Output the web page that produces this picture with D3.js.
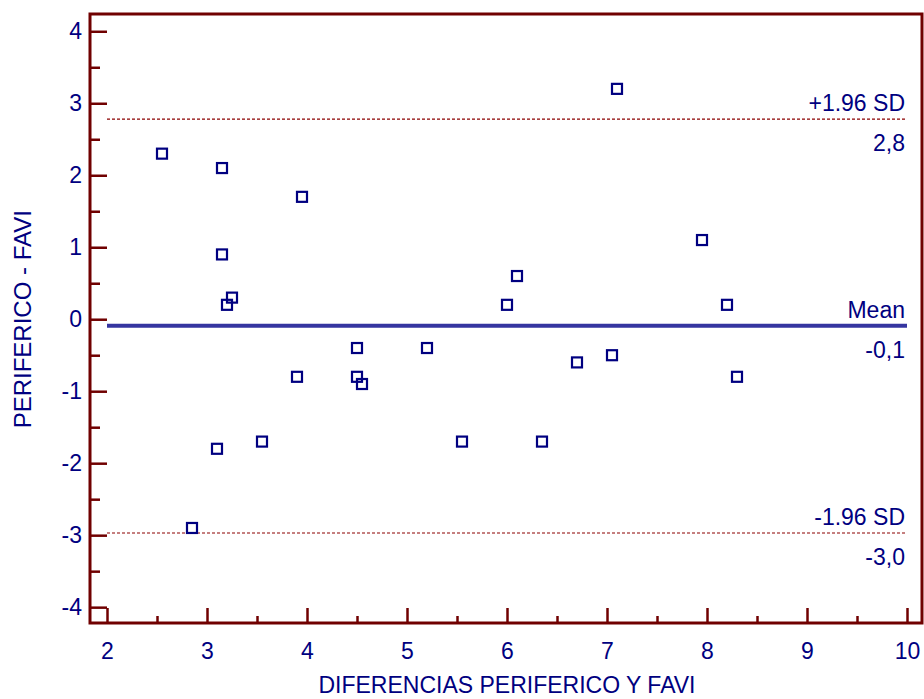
<!DOCTYPE html>
<html lang="es">
<head>
    <meta charset="UTF-8">
    <title>Bland-Altman</title>
    <style>
        body { margin: 0; background: #fff; }
        text { font-family: "Liberation Sans", Arial, sans-serif; }
    </style>
</head>
<body>
<div id="chart"></div>
<script src="https://cdn.jsdelivr.net/npm/d3@7/dist/d3.min.js"></script>
<script>
    // datos
    const xVals = [2.55, 3.15, 3.15, 3.2, 3.25, 3.95, 2.85, 3.1, 3.55, 3.9, 4.5, 4.5, 4.55,
        5.2, 5.55, 6.0, 6.1, 6.35, 6.7, 7.05, 7.1, 7.95, 8.2, 8.3];
    const yVals = [2.3, 2.1, 0.9, 0.2, 0.3, 1.7, -2.9, -1.8, -1.7, -0.8, -0.4, -0.8, -0.9,
        -0.4, -1.7, 0.2, 0.6, -1.7, -0.6, -0.5, 3.2, 1.1, 0.2, -0.8];

    const refNames = ["+1.96 SD", "Mean", "-1.96 SD"];
    const refValues = [2.78, -0.09, -2.97];
    const refLabels = ["2,8", "-0,1", "-3,0"];

    const xTicks = [2, 3, 4, 5, 6, 7, 8, 9, 10];
    const yTicks = [-4, -3, -2, -1, 0, 1, 2, 3, 4];

    const width = 924, height = 699;
    const frameColor = "#700000", textColor = "#000080";
    const fontSize = "23px";

    let svg = d3.select("#chart")
        .append("svg")
        .attr("width", width)
        .attr("height", height);

    var x = d3.scaleLinear()
        .domain([1.83, 10.15])
        .range([90, 922]);

    var y = d3.scaleLinear()
        .domain([-4.22, 4.24])
        .range([623, 14]);

    // ticks menores
    var xMinor = d3.axisBottom(x).tickValues(d3.range(2.5, 10, 1)).tickSize(-7).tickFormat("");
    var yMinor = d3.axisLeft(y).tickValues(d3.range(-3.5, 4, 1)).tickSize(-10).tickFormat("");

    var xAxis = d3.axisBottom(x).tickValues(xTicks).tickSize(-15).tickPadding(20)
        .tickFormat(d => String(d));
    var yAxis = d3.axisLeft(y).tickValues(yTicks).tickSize(-17).tickPadding(8)
        .tickFormat(d => String(d));

    [[xMinor, "x"], [xAxis, "x"], [yMinor, "y"], [yAxis, "y"]].forEach(([ax, k]) => {
        let g = svg.append("g")
            .attr("transform", k === "x" ? `translate(0, ${y.range()[0]})` : `translate(${x.range()[0]}, 0)`)
            .call(ax);
        g.select(".domain").remove();
        g.selectAll(".tick line").attr("stroke", frameColor).attr("stroke-width", 2.5);
        g.selectAll(".tick text")
            .attr("fill", textColor)
            .style("font-size", fontSize);
    });

    // marco
    svg.append("rect")
        .attr("x", x.range()[0])
        .attr("y", y.range()[1])
        .attr("width", x.range()[1] - x.range()[0])
        .attr("height", y.range()[0] - y.range()[1])
        .attr("fill", "none")
        .attr("stroke", frameColor)
        .attr("stroke-width", 3);

    // lineas de referencia
    let refs = svg.append("g").classed("refs", true);
    refValues.forEach((v, i) => {
        let isMean = refNames[i] === "Mean";
        refs.append("line")
            .attr("x1", x(2))
            .attr("x2", x(10))
            .attr("y1", y(v))
            .attr("y2", y(v))
            .attr("stroke", isMean ? "#3535a0" : "#8b0000")
            .attr("stroke-width", isMean ? 4 : 1.2)
            .attr("stroke-dasharray", isMean ? null : "3,2");
        refs.append("text")
            .attr("x", x(10) - 2)
            .attr("y", y(v) - 8)
            .attr("text-anchor", "end")
            .attr("fill", textColor)
            .style("font-size", fontSize)
            .text(refNames[i]);
        refs.append("text")
            .attr("x", x(10) - 2)
            .attr("y", y(v) + 32)
            .attr("text-anchor", "end")
            .attr("fill", textColor)
            .style("font-size", fontSize)
            .text(refLabels[i]);
    });

    // puntos
    svg.append("g")
        .classed("points", true)
        .selectAll("rect")
        .data(xVals.map((d, i) => ({x: d, y: yVals[i]})))
        .join("rect")
        .attr("x", d => x(d.x) - 5)
        .attr("y", d => y(d.y) - 5)
        .attr("width", 10)
        .attr("height", 10)
        .attr("fill", "none")
        .attr("stroke", textColor)
        .attr("stroke-width", 2.2);

    // titulos de ejes
    svg.append("text")
        .attr("x", 507)
        .attr("y", 693)
        .attr("text-anchor", "middle")
        .attr("fill", textColor)
        .style("font-size", fontSize)
        .text("DIFERENCIAS PERIFERICO Y FAVI");

    svg.append("text")
        .attr("transform", `translate(31, ${y(0)}) rotate(-90)`)
        .attr("text-anchor", "middle")
        .attr("fill", textColor)
        .style("font-size", "24px")
        .text("PERIFERICO - FAVI");
</script>
</body>
</html>
